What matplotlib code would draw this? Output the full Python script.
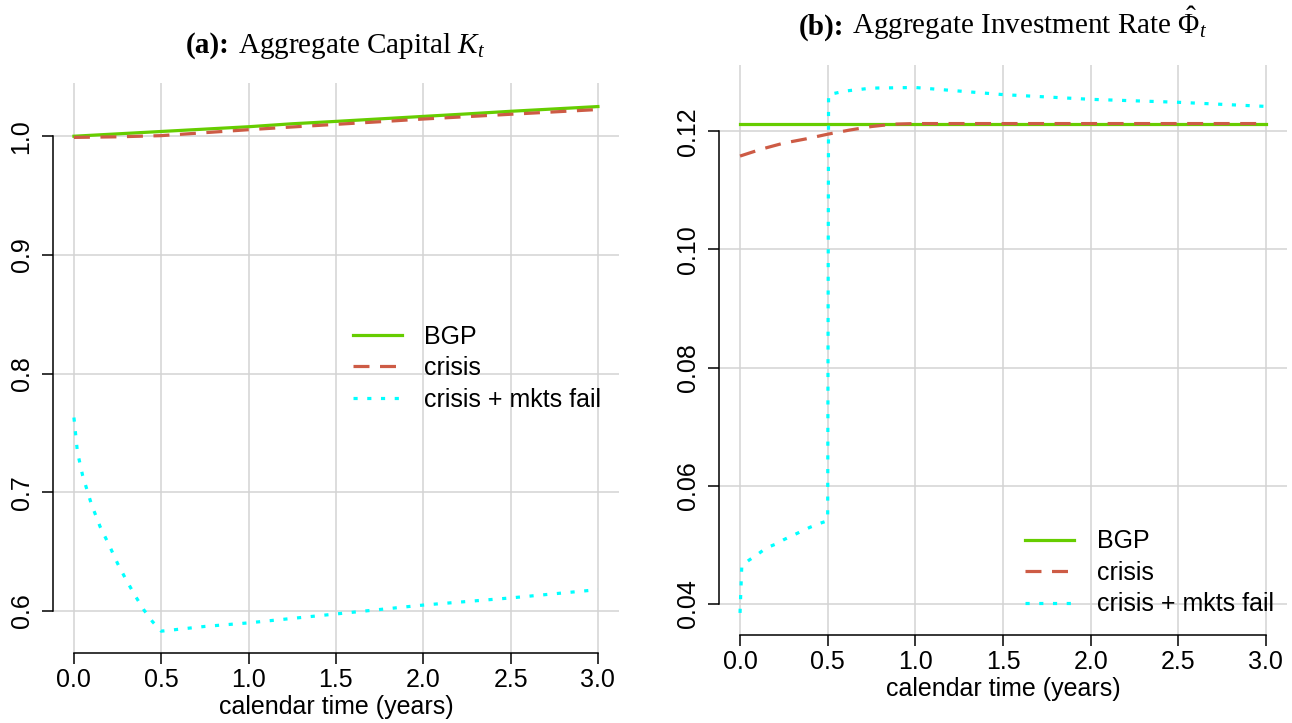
import matplotlib
matplotlib.use("Agg")
import matplotlib.pyplot as plt
from matplotlib.offsetbox import TextArea, HPacker, AnchoredOffsetbox

plt.rcParams['font.family'] = 'Liberation Sans'
plt.rcParams['mathtext.fontset'] = 'custom'
plt.rcParams['mathtext.rm'] = 'Liberation Serif'
plt.rcParams['mathtext.it'] = 'Liberation Serif:italic'
plt.rcParams['mathtext.bf'] = 'Liberation Serif:bold'

# (a) aggregate capital K_t
t_k = [0.0, 0.25, 0.5, 0.75, 1.0, 1.25, 1.5, 1.75, 2.0, 2.25, 2.5, 2.75, 3.0]
k_bgp = [1.000, 1.002, 1.004, 1.006, 1.008, 1.0105, 1.0125, 1.0146, 1.0167,
         1.0188, 1.021, 1.023, 1.025]
k_crisis = [0.999, 0.9995, 1.0005, 1.003, 1.0055, 1.0078, 1.010, 1.0122, 1.0145,
            1.0165, 1.0185, 1.0205, 1.0225]
t_k_fail = [0.0, 0.02, 0.05, 0.1, 0.15, 0.2, 0.25, 0.3, 0.35, 0.4, 0.45, 0.5,
            0.75, 1.0, 1.5, 2.0, 2.5, 3.0]
k_fail = [0.763, 0.734, 0.714, 0.690, 0.671, 0.656, 0.640, 0.626, 0.613, 0.601,
          0.591, 0.583, 0.587, 0.590, 0.5975, 0.605, 0.611, 0.618]

# (b) aggregate investment rate
t_phi_bgp = [0.0, 3.0]
phi_bgp = [0.1213, 0.1213]
t_phi_crisis = [0.0, 0.125, 0.25, 0.375, 0.5, 0.625, 0.75, 0.875, 1.0, 1.5, 2.0, 2.5, 3.0]
phi_crisis = [0.1158, 0.1170, 0.1180, 0.1187, 0.1195, 0.1202, 0.1208, 0.1212,
              0.1213, 0.1213, 0.1213, 0.1213, 0.1213]
t_phi_fail = [0.0, 0.01, 0.05, 0.1, 0.15, 0.2, 0.25, 0.3, 0.35, 0.4, 0.45, 0.5,
              0.505, 0.6, 0.75, 1.0, 1.25, 1.5, 2.0, 2.5, 3.0]
phi_fail = [0.0385, 0.0465, 0.0474, 0.0484, 0.0495, 0.0501, 0.0509, 0.0516, 0.0523,
            0.0530, 0.0536, 0.0541, 0.1262, 0.1268, 0.1273, 0.1274, 0.1268, 0.1262,
            0.1254, 0.1249, 0.1242]

x_ticks = [0.0, 0.5, 1.0, 1.5, 2.0, 2.5, 3.0]
k_ticks = [0.6, 0.7, 0.8, 0.9, 1.0]
phi_ticks = [0.04, 0.06, 0.08, 0.10, 0.12]
labels = ['BGP', 'crisis', 'crisis + mkts fail']

GREEN = '#66CD00'
RED = '#CD5B45'
CYAN = '#00FFFF'
LW = 2.3


def style_axes(ax, yticks, yfmt, ylim):
    ax.set_xlim(-0.12, 3.12)
    ax.set_ylim(*ylim)
    ax.set_xticks(x_ticks)
    ax.set_xticklabels(['%.1f' % v for v in x_ticks])
    ax.set_yticks(yticks)
    ax.set_yticklabels([yfmt % v for v in yticks], rotation=90, va='center')
    ax.grid(color='#d3d3d3', lw=1.1)
    ax.set_axisbelow(True)
    for side in ('top', 'right'):
        ax.spines[side].set_visible(False)
    ax.spines['left'].set_bounds(yticks[0], yticks[-1])
    ax.spines['bottom'].set_bounds(x_ticks[0], x_ticks[-1])
    for side in ('left', 'bottom'):
        ax.spines[side].set_linewidth(1.1)
    ax.tick_params(axis='both', length=8, width=1.1, labelsize=18)
    ax.tick_params(axis='x', pad=3)
    ax.tick_params(axis='y', pad=6)
    ax.set_xlabel('calendar time (years)', fontsize=18, labelpad=2)


def panel_title(ax, tag, text):
    bold = TextArea(tag, textprops=dict(family='Liberation Serif', weight='bold', size=21))
    rest = TextArea(text, textprops=dict(family='Liberation Serif', size=21))
    box = HPacker(children=[bold, rest], align='baseline', pad=0, sep=6)
    anchored = AnchoredOffsetbox(loc='lower center', child=box, pad=0, borderpad=0,
                                 frameon=False, bbox_to_anchor=(0.5, 1.04),
                                 bbox_transform=ax.transAxes)
    ax.add_artist(anchored)


def add_legend(ax, x, y):
    ax.legend(labels, loc='center left', bbox_to_anchor=(x, y), frameon=False,
              fontsize=18, handlelength=1.96, handletextpad=0.9, labelspacing=0.3,
              borderpad=0, borderaxespad=0)


fig = plt.figure(figsize=(12.92, 7.23), dpi=100)
ax1 = fig.add_axes([0.041, 0.0968, 0.438, 0.788])
ax2 = fig.add_axes([0.5565, 0.1217, 0.4396, 0.788])

ax1.plot(t_k, k_bgp, color=GREEN, lw=LW)
ax1.plot(t_k, k_crisis, color=RED, lw=LW, linestyle=(0, (5, 3.3)))
ax1.plot(t_k_fail, k_fail, color=CYAN, lw=LW, linestyle=(0, (1.3, 3)))
style_axes(ax1, k_ticks, '%.1f', (0.5646, 1.0446))
add_legend(ax1, 0.53, 0.5)
panel_title(ax1, '(a):', 'Aggregate Capital $K_t$')

ax2.plot(t_phi_bgp, phi_bgp, color=GREEN, lw=LW)
ax2.plot(t_phi_crisis, phi_crisis, color=RED, lw=LW, linestyle=(0, (5, 3.3)))
ax2.plot(t_phi_fail, phi_fail, color=CYAN, lw=LW, linestyle=(0, (1.3, 3)))
style_axes(ax2, phi_ticks, '%.2f', (0.03476, 0.13116))
add_legend(ax2, 0.539, 0.109)
panel_title(ax2, '(b):', r'Aggregate Investment Rate $\hat{\Phi}_t$')

fig.savefig('out.png', dpi=100)
